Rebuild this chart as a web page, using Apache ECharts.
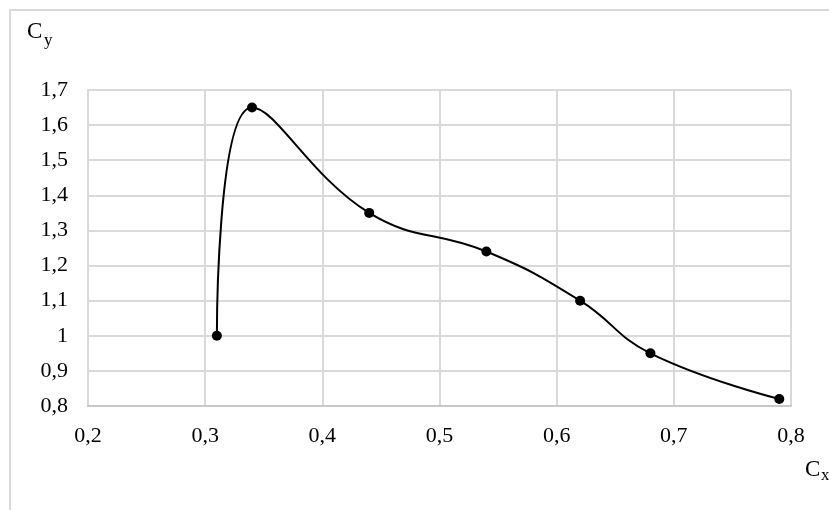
<!DOCTYPE html>
<html>
<head>
<meta charset="utf-8">
<script src="https://cdn.jsdelivr.net/npm/echarts@6/dist/echarts.min.js"></script>
<style>html,body{margin:0;padding:0;background:#fff}#c{width:829px;height:510px}</style>
</head>
<body>
<div id="c"></div>
<script>
const cxValues = [0.31, 0.34, 0.44, 0.54, 0.62, 0.68, 0.79];
const cyValues = [1.00, 1.65, 1.35, 1.24, 1.10, 0.95, 0.82];
const axisMain = 'C';
const xAxisSub = 'x';
const yAxisSub = 'y';

const points = cxValues.map((x, i) => [x, cyValues[i]]);
const fmt = v => (Math.round(v * 10) / 10).toString().replace('.', ',');
const font = '"Liberation Serif", "Times New Roman", serif';

const mainStyle = t => ({text: t, fontFamily: font, fontSize: 23, fill: '#000', verticalAlign: 'top'});
const subStyle = t => ({text: t, fontFamily: font, fontSize: 17, fill: '#000', verticalAlign: 'top'});

const chart = echarts.init(document.getElementById('c'), null, {renderer: 'canvas'});
chart.setOption({
  animation: false,
  backgroundColor: '#fff',
  grid: {left: 88, top: 90, right: 38, bottom: 104, containLabel: false},
  graphic: [
    {type: 'rect', shape: {x: 10, y: 10, width: 840, height: 540},
     style: {fill: 'none', stroke: '#d9d9d9', lineWidth: 2}, silent: true},
    {type: 'text', x: 27, y: 20, style: mainStyle(axisMain)},
    {type: 'text', x: 44, y: 32, style: subStyle(yAxisSub)},
    {type: 'text', x: 805, y: 458, style: mainStyle(axisMain)},
    {type: 'text', x: 821, y: 467, style: subStyle(xAxisSub)}
  ],
  xAxis: {
    type: 'value', min: 0.2, max: 0.8, interval: 0.1,
    axisLine: {show: true, onZero: false, lineStyle: {color: '#c8c8c8', width: 2}},
    axisTick: {show: false},
    splitLine: {show: true, lineStyle: {color: '#d9d9d9', width: 2}},
    axisLabel: {formatter: fmt, fontFamily: font, fontSize: 22, color: '#000', margin: 19}
  },
  yAxis: {
    type: 'value', min: 0.8, max: 1.7, interval: 0.1,
    axisLine: {show: true, lineStyle: {color: '#d9d9d9', width: 2}},
    axisTick: {show: false},
    splitLine: {show: true, lineStyle: {color: '#d9d9d9', width: 2}},
    axisLabel: {formatter: fmt, fontFamily: font, fontSize: 22, color: '#000', margin: 20}
  },
  series: [{
    type: 'line',
    data: points,
    smooth: 0.45,
    symbol: 'circle',
    symbolSize: 10,
    itemStyle: {color: '#000'},
    lineStyle: {color: '#000', width: 2}
  }]
});
</script>
</body>
</html>
